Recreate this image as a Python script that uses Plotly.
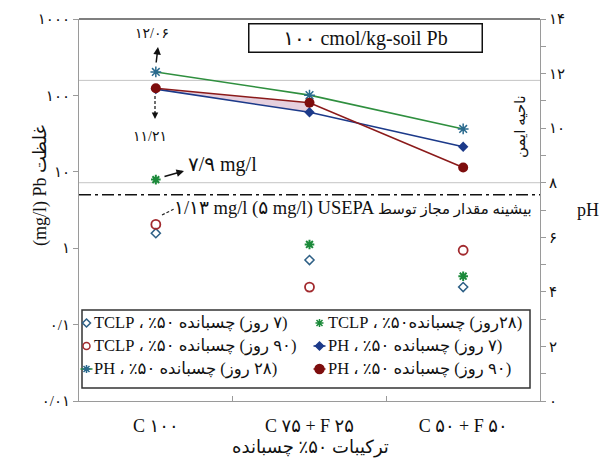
import plotly.graph_objects as go

# ---------------- data ----------------
categories = ["C ۱۰۰", "C ۷۵ + F ۲۵", "C ۵۰ + F ۵۰"]
tclp_7d = [1.57, 0.70, 0.31]
tclp_28d = [7.9, 1.12, 0.43]
tclp_90d = [2.05, 0.31, 0.94]
ph_7d = [11.43, 10.58, 9.32]
ph_28d = [12.06, 11.21, 9.97]
ph_90d = [11.46, 10.93, 8.56]
usepa_limit = 5.0
safe_zone_ph = [8.0, 11.75]
left_tickvals = [0.01, 0.1, 1, 10, 100, 1000]
left_ticktext = ["۰/۰۱", "۰/۱", "۱", "۱۰", "۱۰۰", "۱۰۰۰"]
right_tickvals = [0, 2, 4, 6, 8, 10, 12, 14]
right_ticktext = ["۰", "۲", "۴", "۶", "۸", "۱۰", "۱۲", "۱۴"]

RLE, PDF = "\u202b", "\u202c"
legend_labels = {
    "tclp7": RLE + "(۷ روز) چسبانده ۵۰٪ ، TCLP" + PDF,
    "tclp28": RLE + "(۲۸روز) چسبانده۵۰٪ ، TCLP" + PDF,
    "tclp90": RLE + "(۹۰ روز) چسبانده ۵۰٪ ، TCLP" + PDF,
    "ph7": RLE + "(۷ روز) چسبانده ۵۰٪ ، PH" + PDF,
    "ph28": RLE + "(۲۸ روز) چسبانده ۵۰٪ ، PH" + PDF,
    "ph90": RLE + "(۹۰ روز) چسبانده ۵۰٪ ، PH" + PDF,
}

# ---------------- layout helpers ----------------
W, H = 603, 463
ML, MR, MT, MB = 79, 63, 19, 62
PW, PH_ = W - ML - MR, H - MT - MB


def px(x):
    return (x - ML) / PW


def py(y):
    return (H - MB - y) / PH_


SERIF = "Liberation Serif, DejaVu Sans, serif"
C_BLUE = "#1c3a8a"
C_RED = "#8b1a1a"
C_GREEN = "#2f8f3f"
C_TEAL = "#2a6a8e"
C_OPEN_BLUE = "#2d5f85"
C_OPEN_RED = "#a22a2e"
C_X_GREEN = "#1b8a3a"

fig = go.Figure()

# shaded area between 7-day and 90-day pH lines
fig.add_trace(go.Scatter(x=categories[:2], y=ph_7d[:2], yaxis="y2", mode="lines",
                         line=dict(width=0, color=C_BLUE), showlegend=False, hoverinfo="skip"))
fig.add_trace(go.Scatter(x=categories[:2], y=ph_90d[:2], yaxis="y2", mode="lines",
                         line=dict(width=0, color=C_RED), fill="tonexty",
                         fillcolor="rgba(226,200,216,0.85)", showlegend=False, hoverinfo="skip"))

# pH lines
fig.add_trace(go.Scatter(x=categories, y=ph_28d, yaxis="y2", mode="lines+markers",
                         line=dict(color=C_GREEN, width=1.6),
                         marker=dict(symbol="asterisk-open", size=9, color=C_TEAL,
                                     line=dict(width=1.5, color=C_TEAL)),
                         showlegend=False))
fig.add_trace(go.Scatter(x=categories, y=ph_7d, yaxis="y2", mode="lines+markers",
                         line=dict(color=C_BLUE, width=1.6),
                         marker=dict(symbol="diamond", size=8, color=C_BLUE),
                         showlegend=False))
fig.add_trace(go.Scatter(x=categories, y=ph_90d, yaxis="y2", mode="lines+markers",
                         line=dict(color=C_RED, width=1.6),
                         marker=dict(symbol="circle", size=10, color="#7d0d0d"),
                         showlegend=False))

# TCLP markers
fig.add_trace(go.Scatter(x=categories, y=tclp_7d, mode="markers",
                         marker=dict(symbol="diamond-open", size=7, color=C_OPEN_BLUE,
                                     line=dict(width=1.5, color=C_OPEN_BLUE)),
                         showlegend=False))
fig.add_trace(go.Scatter(x=categories, y=tclp_28d, mode="markers",
                         marker=dict(symbol="asterisk-open", size=8, color=C_X_GREEN,
                                     line=dict(width=2, color=C_X_GREEN)),
                         showlegend=False))
fig.add_trace(go.Scatter(x=categories, y=tclp_90d, mode="markers",
                         marker=dict(symbol="circle-open", size=9, color=C_OPEN_RED,
                                     line=dict(width=1.8, color=C_OPEN_RED)),
                         showlegend=False))

shapes = []
for v in safe_zone_ph:
    shapes.append(dict(type="line", xref="paper", x0=0, x1=1, yref="y2", y0=v, y1=v,
                       line=dict(color="#c4c4c4", width=1), layer="below"))
shapes.append(dict(type="line", xref="paper", x0=0, x1=1, yref="y", y0=usepa_limit, y1=usepa_limit,
                   line=dict(color="#111", width=1.6, dash="12px,4px,3px,4px")))
shapes.append(dict(type="line", xref="paper", x0=0, x1=1, yref="paper", y0=1, y1=1,
                   line=dict(color="#555", width=1.5)))
shapes.append(dict(type="line", xref="paper", yref="paper", x0=px(155), x1=px(155),
                   y0=py(96), y1=py(113), line=dict(color="#222", width=1.3, dash="3px,2px")))
shapes.append(dict(type="line", xref="paper", yref="paper", x0=px(162), x1=px(174),
                   y0=py(215), y1=py(209), line=dict(color="#222", width=1.2, dash="3px,2px")))
shapes.append(dict(type="rect", xref="paper", yref="paper", x0=px(82), x1=px(530),
                   y0=py(310), y1=py(388), line=dict(color="#333", width=1.5),
                   fillcolor="white"))

rows = [323, 346, 369]
col_sym = [86.5, 319.5]
col_txt = [92, 326]

PATHS = {
    "diamond": "M0,4 L4,0 L0,-4 L-4,0 Z",
    "asterisk": "M-4,0 L4,0 M0,-4 L0,4 M-3,-3 L3,3 M-3,3 L3,-3",
}

legend_items = [
    (0, 0, "tclp7", "diamond", C_OPEN_BLUE, False, None, 4),
    (0, 1, "tclp28", "asterisk", C_X_GREEN, False, None, 4),
    (1, 0, "tclp90", "circle", C_OPEN_RED, False, None, 3.5),
    (1, 1, "ph7", "diamond", C_BLUE, True, C_BLUE, 4),
    (2, 0, "ph28", "asterisk", C_TEAL, False, C_GREEN, 4),
    (2, 1, "ph90", "circle", "#7d0d0d", True, C_RED, 4.5),
]

annotations = []
for r, c, key, kind, color, filled, lcol, rad in legend_items:
    xc, yc = col_sym[c], rows[r]
    if lcol:
        shapes.append(dict(type="line", xref="paper", yref="paper",
                           x0=px(xc - 6), x1=px(xc + 6), y0=py(yc), y1=py(yc),
                           line=dict(color=lcol, width=1.6)))
    if kind == "circle":
        shapes.append(dict(type="circle", xref="paper", yref="paper",
                           xsizemode="pixel", ysizemode="pixel",
                           xanchor=px(xc), yanchor=py(yc), x0=-rad, x1=rad, y0=-rad, y1=rad,
                           line=dict(color=color, width=1.5),
                           fillcolor=color if filled else "white"))
    else:
        shapes.append(dict(type="path", xref="paper", yref="paper",
                           xsizemode="pixel", ysizemode="pixel",
                           xanchor=px(xc), yanchor=py(yc), path=PATHS[kind],
                           line=dict(color=color, width=1.5),
                           fillcolor=color if filled else ("rgba(0,0,0,0)" if kind == "asterisk" else "white")))
    annotations.append(dict(xref="paper", yref="paper", x=px(col_txt[c]), y=py(yc),
                            xanchor="left", yanchor="middle", showarrow=False,
                            text=legend_labels[key], font=dict(family=SERIF, size=16.5, color="#111")))


def label(x, y, text, size, angle=0, xanchor="center"):
    annotations.append(dict(xref="paper", yref="paper", x=px(x), y=py(y), showarrow=False,
                            xanchor=xanchor, yanchor="middle", textangle=angle, text=text,
                            font=dict(family=SERIF, size=size, color="#111")))


def arrow(hx, hy, ax, ay, width=1.5):
    annotations.append(dict(xref="paper", yref="paper", x=px(hx), y=py(hy), showarrow=True,
                            ax=ax, ay=ay, text="", arrowhead=2, arrowsize=1, arrowwidth=width,
                            arrowcolor="#111"))


# title box
annotations.append(dict(xref="paper", yref="paper", x=px(365), y=py(38), xanchor="center",
                        yanchor="middle", showarrow=False, text="۱۰۰ cmol/kg-soil Pb",
                        font=dict(family=SERIF, size=20, color="#111"),
                        bordercolor="#111", borderwidth=1.5, width=230, height=25,
                        bgcolor="white"))
label(152, 34, "۱۲/۰۶", 14)
arrow(158, 47, -2, 17)
label(150, 136, "۱۱/۲۱", 14)
arrow(155, 119, 0, -8, 1.3)
label(222, 164, "۷/۹ mg/l", 20)
arrow(184, 171, -21, 6)
label(534, 208,
      "۱/۱۳ mg/l (۵ mg/l) USEPA <span style='font-size:15px'>بیشینه مقدار مجاز توسط</span>",
      18.5, xanchor="right")
label(40, 186, "(mg/l) Pb غلظت", 18, angle=-90)
label(588, 210, "pH", 18)
label(521, 127, RLE + "ناحیه ایمن" + PDF, 15, angle=-90)
label(310, 447, RLE + "ترکیبات ۵۰٪ چسبانده" + PDF, 18)

AX = "#9a9a9a"
fig.update_layout(
    width=W, height=H,
    margin=dict(l=ML, r=MR, t=MT, b=MB, pad=0),
    paper_bgcolor="white", plot_bgcolor="white",
    showlegend=False,
    xaxis=dict(type="category", range=[-0.5, 2.5], showline=True, linecolor=AX, linewidth=1,
               ticks="inside", tickson="boundaries", ticklen=5, tickcolor=AX,
               showgrid=False, zeroline=False,
               tickfont=dict(family=SERIF, size=18, color="#111"), ticklabelstandoff=8),
    yaxis=dict(type="log", range=[-2, 3], tickvals=left_tickvals, ticktext=left_ticktext,
               ticks="outside", ticklen=5, tickcolor=AX, showline=True, linecolor=AX,
               showgrid=False, zeroline=False,
               tickfont=dict(family=SERIF, size=15, color="#111")),
    yaxis2=dict(overlaying="y", side="right", range=[0, 14], tickvals=right_tickvals,
                ticktext=right_ticktext, ticks="outside", ticklen=5, tickcolor=AX,
                minor=dict(ticks="outside", dtick=1, tick0=0, ticklen=5, tickcolor=AX),
                showline=True, linecolor=AX, showgrid=False, zeroline=False,
                tickfont=dict(family=SERIF, size=15, color="#111")),
    shapes=shapes,
    annotations=annotations,
)

fig.write_html("out.html", config={"displayModeBar": False},
               post_script="document.body.style.margin='0px';document.body.style.padding='0px';")
